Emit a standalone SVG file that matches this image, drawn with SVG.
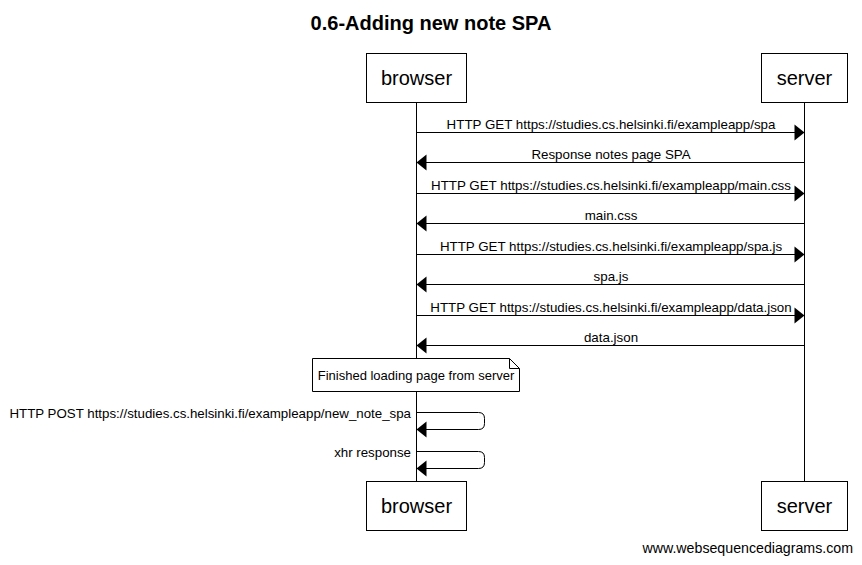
<svg xmlns="http://www.w3.org/2000/svg" width="862" height="565" viewBox="0 0 862 565">
<style>
text{font-family:"Liberation Sans",Arial,sans-serif;fill:#000}
.title{font-size:20px;font-weight:bold;text-anchor:middle}
.part{font-size:20px;text-anchor:middle}
.lbl{font-size:13.35px;text-anchor:middle}
.lblr{font-size:13.3px;text-anchor:end}
.note{font-size:13px;text-anchor:middle}
.box{fill:#fff;stroke:#000;stroke-width:1}
.life{stroke:#000;stroke-width:1;fill:none}
.msg{stroke:#000;stroke-width:1;fill:none;marker-end:url(#ah)}
.foot{font-size:14.2px;text-anchor:end}
</style>
<defs>
<marker id="ah" markerUnits="userSpaceOnUse" markerWidth="10" markerHeight="16" refX="10" refY="8" orient="auto" overflow="visible">
<path d="M0,0 L10,8 L0,16 Z" fill="#000"/>
</marker>
</defs>
<rect width="862" height="565" fill="#fff"/>
<text class="title" x="431" y="29.5">0.6-Adding new note SPA</text>
<g id="lifelines">
<line class="life" x1="416.5" y1="102.5" x2="416.5" y2="481.5"/>
<line class="life" x1="804.5" y1="102.5" x2="804.5" y2="481.5"/>
</g>
<g id="browser">
<rect class="box" x="366.5" y="53.5" width="100" height="49"/>
<text class="part" x="416.5" y="85">browser</text>
</g>
<g id="server">
<rect class="box" x="761.5" y="53.5" width="86" height="49"/>
<text class="part" x="804.5" y="85">server</text>
</g>
<g id="browser-bottom">
<rect class="box" x="366.5" y="481.5" width="100" height="49"/>
<text class="part" x="416.5" y="513">browser</text>
</g>
<g id="server-bottom">
<rect class="box" x="761.5" y="481.5" width="86" height="49"/>
<text class="part" x="804.5" y="513">server</text>
</g>
<g id="connectors">
<line class="msg" x1="416.5" y1="132.5" x2="804.5" y2="132.5"/>
<text class="lbl" x="611" y="128.5">HTTP GET https://studies.cs.helsinki.fi/exampleapp/spa</text>
<line class="msg" x1="804.5" y1="162.5" x2="416.5" y2="162.5"/>
<text class="lbl" x="611" y="158.5">Response notes page SPA</text>
<line class="msg" x1="416.5" y1="193.5" x2="804.5" y2="193.5"/>
<text class="lbl" x="611" y="189.5">HTTP GET https://studies.cs.helsinki.fi/exampleapp/main.css</text>
<line class="msg" x1="804.5" y1="223.5" x2="416.5" y2="223.5"/>
<text class="lbl" x="611" y="219.5">main.css</text>
<line class="msg" x1="416.5" y1="254.5" x2="804.5" y2="254.5"/>
<text class="lbl" x="611" y="250.5">HTTP GET https://studies.cs.helsinki.fi/exampleapp/spa.js</text>
<line class="msg" x1="804.5" y1="284.5" x2="416.5" y2="284.5"/>
<text class="lbl" x="611" y="280.5">spa.js</text>
<line class="msg" x1="416.5" y1="315.5" x2="804.5" y2="315.5"/>
<text class="lbl" x="611" y="311.5">HTTP GET https://studies.cs.helsinki.fi/exampleapp/data.json</text>
<line class="msg" x1="804.5" y1="345.5" x2="416.5" y2="345.5"/>
<text class="lbl" x="611" y="341.5">data.json</text>
<path class="msg" d="M416.5,412.5 H478.5 Q484.5,412.5 484.5,418.5 V423.5 Q484.5,429.5 478.5,429.5 H416.5"/>
<text class="lblr" x="411" y="418">HTTP POST https://studies.cs.helsinki.fi/exampleapp/new_note_spa</text>
<path class="msg" d="M416.5,451.5 H478.5 Q484.5,451.5 484.5,457.5 V462.5 Q484.5,468.5 478.5,468.5 H416.5"/>
<text class="lblr" x="411" y="456.5">xhr response</text>
</g>
<g id="note">
<path class="box" d="M312.5,358.5 H509.5 L519.5,368.5 V391.5 H312.5 Z"/>
<path class="life" d="M509.5,358.5 V368.5 H519.5"/>
<text class="note" x="416" y="380">Finished loading page from server</text>
</g>
<text class="foot" x="853" y="553">www.websequencediagrams.com</text>
</svg>
